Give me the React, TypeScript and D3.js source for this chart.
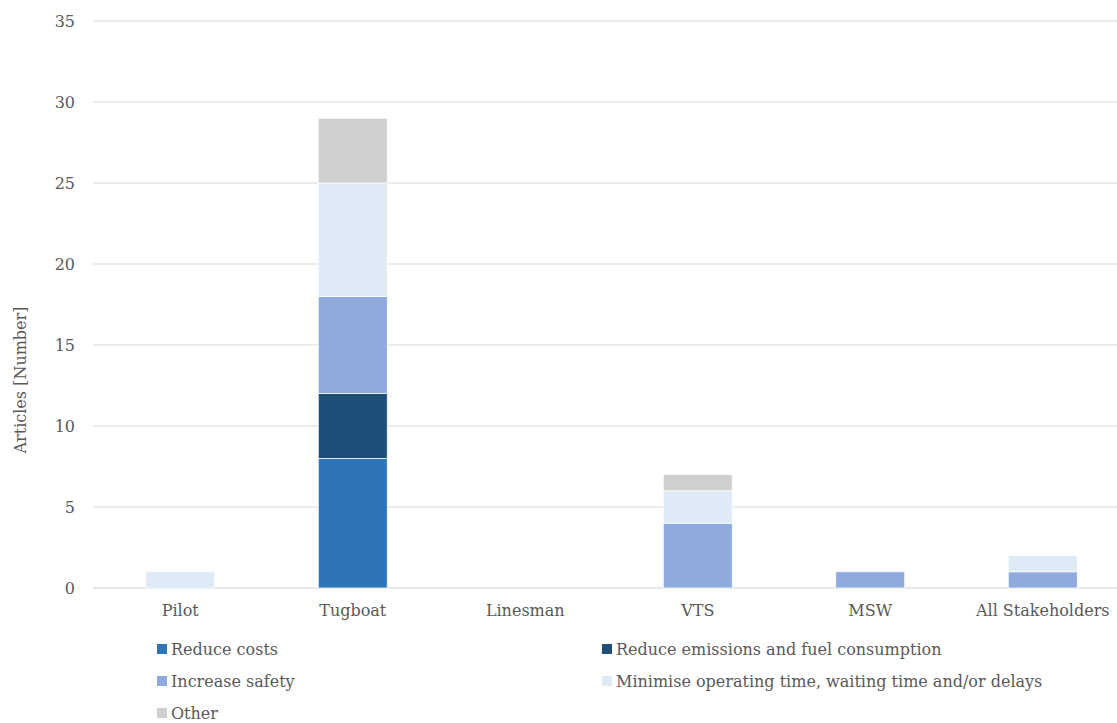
import React from "react";
import * as d3 from "d3";

const categories = ["Pilot", "Tugboat", "Linesman", "VTS", "MSW", "All Stakeholders"];
const seriesNames = [
  "Reduce costs",
  "Reduce emissions and fuel consumption",
  "Increase safety",
  "Minimise operating time, waiting time and/or delays",
  "Other",
];
const reduceCosts = [0, 8, 0, 0, 0, 0];
const reduceEmissions = [0, 4, 0, 0, 0, 0];
const increaseSafety = [0, 6, 0, 4, 1, 1];
const minimiseTime = [1, 7, 0, 2, 0, 1];
const other = [0, 4, 0, 1, 0, 0];
const yTicks = [0, 5, 10, 15, 20, 25, 30, 35];
const colors = ["#2E75B6", "#1F4E79", "#8FAADC", "#DEEBF7", "#D0CECE"];

const W = 1117;
const H = 723;
const FONT = "'DejaVu Serif', serif";
const FS = 16;

export default function App() {
  const seriesValues = [reduceCosts, reduceEmissions, increaseSafety, minimiseTime, other];
  const rows = categories.map((c, i) => {
    const r: any = { cat: c };
    seriesNames.forEach((s, k) => (r[s] = seriesValues[k][i]));
    return r;
  });
  const stack = d3.stack<any>().keys(seriesNames)(rows);
  const x = d3.scaleBand().domain(categories).range([94, 1129]).paddingInner(0.6).paddingOuter(0.3);
  const y = d3.scaleLinear().domain([0, 35]).range([588, 21]);
  const legendPos = [
    [157, 649],
    [602, 649],
    [157, 681],
    [602, 681],
    [157, 713],
  ];
  return (
    <svg width={W} height={H} style={{ position: "absolute", left: 0, top: 0, background: "#fff" }}>
      {yTicks.map((t) => (
        <g key={t}>
          <line x1={93} x2={W} y1={y(t)} y2={y(t)} stroke={t === 0 ? "#d0d0d0" : "#d9d9d9"} strokeWidth={1} />
          <text x={75} y={y(t)} dy="0.35em" textAnchor="end" fontFamily={FONT} fontSize={FS} fill="#595959">
            {t}
          </text>
        </g>
      ))}
      {stack.map((s, k) => (
        <g key={k} fill={colors[k]}>
          {s.map((d, i) =>
            d[1] - d[0] > 0 ? (
              <rect
                key={i}
                x={x(categories[i])!}
                width={x.bandwidth()}
                y={y(d[1])}
                height={y(d[0]) - y(d[1])}
                stroke="#fff"
                strokeWidth={0.75}
              />
            ) : null
          )}
        </g>
      ))}
      {categories.map((c) => (
        <text
          key={c}
          x={x(c)! + x.bandwidth() / 2}
          y={610}
          dy="0.35em"
          textAnchor="middle"
          fontFamily={FONT}
          fontSize={FS}
          fill="#595959"
        >
          {c}
        </text>
      ))}
      <text
        transform={`translate(20,380) rotate(-90)`}
        textAnchor="middle"
        dy="0.35em"
        fontFamily={FONT}
        fontSize={FS}
        fill="#595959"
      >
        Articles [Number]
      </text>
      {seriesNames.map((s, k) => (
        <g key={s} transform={`translate(${legendPos[k][0]},${legendPos[k][1]})`}>
          <rect x={0} y={-5} width={10} height={10} fill={colors[k]} />
          <text x={14} y={0} dy="0.35em" fontFamily={FONT} fontSize={FS} fill="#595959">
            {s}
          </text>
        </g>
      ))}
    </svg>
  );
}
